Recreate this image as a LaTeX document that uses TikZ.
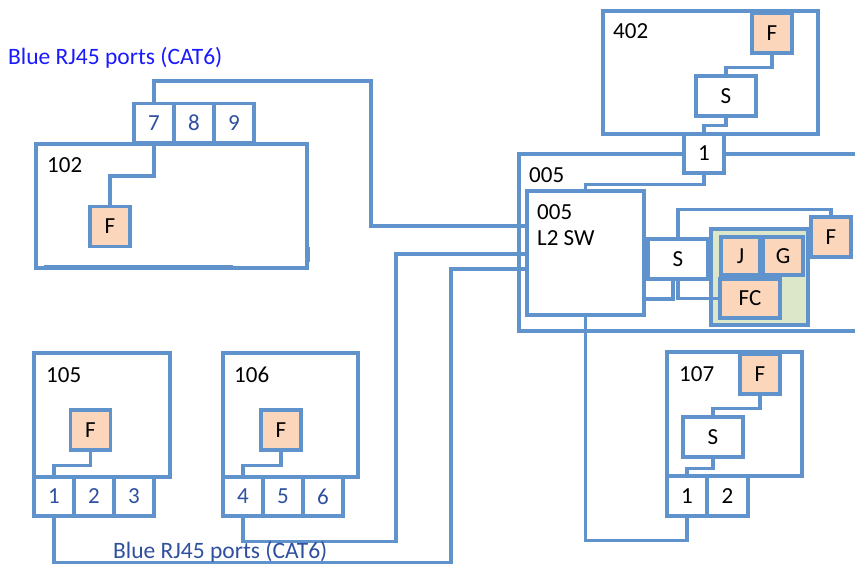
\documentclass[tikz,border=0pt]{standalone}
\usepackage{fontspec}
\setmainfont{Carlito}
\definecolor{lineblue}{RGB}{96,146,203}
\definecolor{peach}{RGB}{251,214,186}
\definecolor{sage}{RGB}{220,230,200}
\definecolor{portblue}{RGB}{47,80,160}
\definecolor{capblue}{RGB}{26,26,255}
\newcommand\boxfont{\fontsize{23}{27}\selectfont}
\newcommand\capfont{\fontsize{23.5}{28}\selectfont}
\begin{document}
\begin{tikzpicture}[x=1pt,y=-1pt,
  wire/.style={draw=lineblue, line width=3.1pt},
  heavy/.style={draw=lineblue, line width=4.5pt},
  room/.style={draw=lineblue, line width=3.1pt, fill=white, inner sep=0pt},
  box/.style={draw=lineblue, line width=3.1pt, fill=white, inner sep=0pt, font=\boxfont},
  dev/.style={box, fill=peach, minimum width=40, minimum height=40},
  sw/.style={box, minimum width=60, minimum height=40},
  port/.style={box, minimum width=40, minimum height=39, text=portblue},
  bport/.style={box, minimum width=40, minimum height=40},
  tag/.style={anchor=base west, inner sep=0pt, font=\boxfont},
  captext/.style={anchor=base west, inner sep=0pt, font=\capfont}]
\clip (0,0) rectangle (855,567);
\fill[white] (0,0) rectangle (855,567);

% rooms
\node[room, minimum width=271, minimum height=124] (r102) at (171.5,206) {};
\node[room, minimum width=136, minimum height=124] (r105) at (102,415) {};
\node[room, minimum width=135, minimum height=124] (r106) at (290.5,415) {};
\node[room, minimum width=135, minimum height=124] (r107) at (734.5,414) {};
\node[room, minimum width=215, minimum height=123] (r402) at (710.5,72.5) {};
\node[room, minimum width=360, minimum height=177] (r005) at (699,242.5) {};
\draw[heavy] (44,267) -- (233,267);
\draw[heavy] (308,247) -- (308,262);
\draw[heavy] (535,331) -- (570,331) (577,331) -- (697,331);

% switch in 005
\node[box, minimum width=117, minimum height=124] (sw) at (585.5,253) {};
\node[room, fill=sage, minimum width=97, minimum height=96] (grn) at (759.5,277) {};

% junction points of the long runs
\coordinate (k1) at (371,226);
\coordinate (k2) at (396,254);
\coordinate (k3) at (451,269);
\coordinate (k4) at (673,299);

% devices and ports
\node[dev] (f102) at (110,226.5) {F};
\node[port] (p7) at (154,123) {7};
\node[port] (p8) at (194,123) {8};
\node[port] (p9) at (234,123) {9};

\node[dev] (f105) at (90.5,430) {F};
\node[port] (p1) at (54,496.5) {1};
\node[port] (p2) at (94,496.5) {2};
\node[port] (p3) at (134,496.5) {3};

\node[dev] (f106) at (281,430) {F};
\node[port] (p4) at (243,496.5) {4};
\node[port] (p5) at (283,496.5) {5};
\node[port] (p6) at (323,496.5) {6};

\node[dev] (f107) at (760,374) {F};
\node[sw] (s107) at (713,437) {S};
\node[bport] (q1) at (687,496) {1};
\node[bport, minimum width=41] (q2) at (727.5,496) {2};

\node[dev] (f402) at (772,33) {F};
\node[sw] (s402) at (726,96) {S};
\node[bport, minimum height=39] (q402) at (704,153.5) {1};

\node[sw] (s005) at (678,259) {S};
\node[dev] (f005) at (831,237) {F};
\node[dev, minimum width=39, minimum height=38] (j) at (740.5,256) {J};
\node[dev, minimum height=38] (g) at (783,256) {G};
\node[dev, minimum width=60, minimum height=39] (fc) at (750,298.5) {FC};

% cabling
\draw[wire] (p7.south) -- ++(0,32) -| (f102.north);
\draw[wire] (p7.north) |- (371,81) -- (k1) -- (k1 -| sw.west);
\draw[wire] (p4.south) -- ++(0,24) -| (k2) -- (k2 -| sw.west);
\draw[wire] (p1.south) -- ++(0,45) -| (k3) -- (k3 -| sw.west);
\draw[wire] (f105.south) -- ++(0,14) -| (p1.north);
\draw[wire] (f106.south) -- ++(0,14) -| (p4.north);
\draw[wire] (f402.south) -- ++(0,13) -| (s402.north);
\draw[wire] (s402.south) -- ++(0,8) -| (q402.north);
\draw[wire] (q402.south) -- ++(0,10) -| (sw.north);
\draw[wire] (s005.north) -- ++(0,-28) -| (f005.north);
\draw[wire] (k4 -| sw.east) -| (k4 |- s005.south);
\draw[wire] (s005.south) |- (fc.west);
\draw[wire] (sw.south) -- ++(0,224) -| (q1.south);
\draw[wire] (f107.south) -- ++(0,13) -| (s107.north);
\draw[wire] (s107.south) -- ++(0,10) -| (q1.north);

% labels
\node[tag] (t102) at (47,173) {102};
\node[tag] (t105) at (46,382) {105};
\node[tag] (t106) at (234,382) {106};
\node[tag] (t107) at (679,381) {107};
\node[tag] (t402) at (613,39) {402};
\node[tag] (t005) at (529,183) {005};
\node[tag] (tsw1) at (537,220) {005};
\node[tag] (tsw2) at (537,246) {L2 SW};
\node[captext, text=capblue] (c1) at (8,65) {Blue RJ45 ports (CAT6)};
\node[captext, text=portblue] (c2) at (113,558) {Blue RJ45 ports (CAT6)};
\end{tikzpicture}
\end{document}
